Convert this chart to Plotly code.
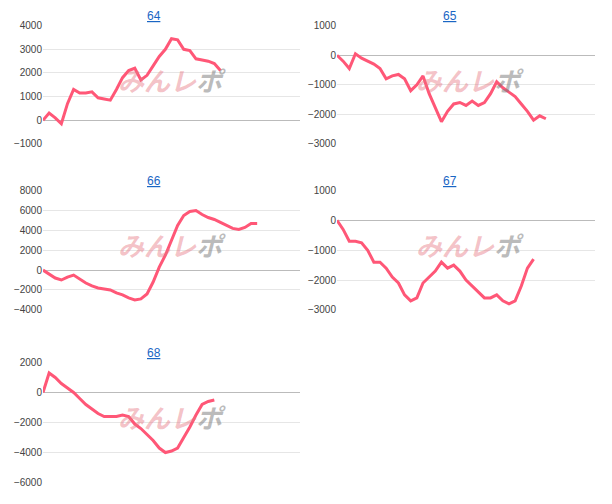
import plotly.graph_objects as go

titles = ["64", "65", "66", "67", "68"]
s64 = [0, 300, 100, -150, 700, 1300, 1150, 1150, 1200, 950, 900, 850, 1300, 1800, 2100, 2200,
       1700, 1900, 2300, 2700, 3000, 3450, 3400, 3000, 2950, 2600, 2550, 2500, 2400, 2100]
s65 = [0, -200, -450, 50, -100, -200, -300, -450, -800, -700, -650, -800, -1200, -1000, -700,
       -1300, -1800, -2250, -1900, -1650, -1600, -1700, -1550, -1700, -1600, -1300, -900, -1100,
       -1250, -1400, -1650, -1900, -2200, -2050, -2150]
s66 = [0, -400, -800, -1000, -700, -500, -900, -1300, -1600, -1800, -1900, -2000, -2300, -2500,
       -2800, -3000, -2900, -2400, -1200, 300, 1500, 3000, 4500, 5500, 5900, 6000, 5600, 5300,
       5100, 4800, 4500, 4200, 4100, 4300, 4700, 4700]
s67 = [0, -300, -700, -700, -750, -1000, -1400, -1400, -1600, -1900, -2100, -2500, -2700, -2600,
       -2100, -1900, -1700, -1400, -1600, -1500, -1700, -2000, -2200, -2400, -2600, -2600, -2500,
       -2700, -2800, -2700, -2200, -1600, -1300]
s68 = [0, 1300, 1000, 600, 300, 0, -400, -800, -1100, -1400, -1600, -1600, -1600, -1500,
       -1600, -2100, -2400, -2800, -3200, -3700, -4000, -3900, -3700, -3000, -2300, -1500,
       -800, -600, -500]
series = [s64, s65, s66, s67, s68]
yranges = [(-1000, 4000), (-3000, 1000), (-4000, 8000), (-3000, 1000), (-6000, 2000)]
ydticks = [1000, 1000, 2000, 1000, 2000]

W, H = 612, 504
cols_px = [(35, 292), (329, 587)]
rows_px = [(12, 133), (181, 303), (357, 480)]
title_x = [146, 442]
mark_x = [164, 462]

fig = go.Figure()
layout = {}
for i, (s, yr, dt) in enumerate(zip(series, yranges, ydticks)):
    r, c = i // 2, i % 2
    n = "" if i == 0 else str(i + 1)
    xd = [cols_px[c][0] / W, cols_px[c][1] / W]
    yd = [1 - rows_px[r][1] / H, 1 - rows_px[r][0] / H]
    fig.add_trace(go.Scatter(x=list(range(len(s))), y=s, mode="lines", xaxis="x" + n, yaxis="y" + n,
                             line=dict(color="#ff5777", width=3), showlegend=False))
    layout["xaxis" + n] = dict(domain=xd, anchor="y" + n, range=[0, 42], showticklabels=False,
                               showgrid=False, zeroline=False, showline=False)
    layout["yaxis" + n] = dict(domain=yd, anchor="x" + n, range=list(yr), dtick=dt, tickformat="d",
                               gridcolor="#e6e6e6", zeroline=True, zerolinecolor="#bbbbbb",
                               zerolinewidth=1, tickfont=dict(size=10, color="#444"))
    fig.add_annotation(x=title_x[c] / W, y=yd[1], xref="paper", yref="paper", xanchor="center",
                       yanchor="bottom", yshift=1, text=f"<u>{titles[i]}</u>", showarrow=False,
                       font=dict(size=12, color="#1a66c4"))
    fig.add_annotation(x=mark_x[c] / W, y=yd[1] - 0.11, xref="paper", yref="paper",
                       xanchor="center", yanchor="middle",
                       text="<b><i><span style='color:rgba(230,120,130,0.45)'>みんレ</span>"
                            "<span style='color:rgba(120,120,120,0.5)'>ポ</span></i></b>",
                       showarrow=False, font=dict(size=26, family="Noto Sans CJK JP"))

fig.update_layout(width=W, height=H, margin=dict(l=0, r=0, t=0, b=0),
                  plot_bgcolor="white", paper_bgcolor="white",
                  font=dict(family="Arial, Liberation Sans"), **layout)
fig.write_html("out.html")
